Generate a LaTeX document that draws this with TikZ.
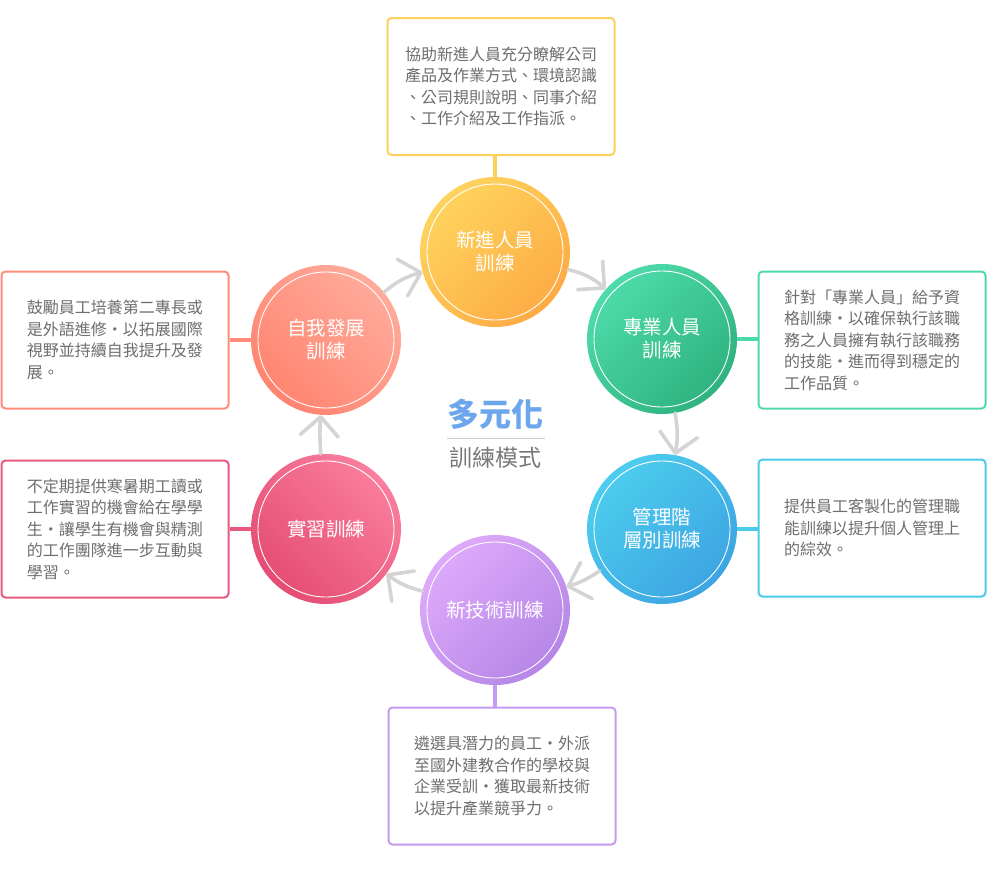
\documentclass[tikz,border=0pt]{standalone}
\usepackage{fontspec}
\usepackage{xcolor}
\usepackage{tikz}
\usetikzlibrary{arrows.meta}
\newfontfamily\cjk{Noto Sans CJK TC}
\definecolor{txtgray}{HTML}{6E6E6E}
\definecolor{subgray}{HTML}{777777}
\definecolor{rulegray}{HTML}{CCCCCC}
\definecolor{flowgray}{HTML}{D4D4D4}
\definecolor{titleblue}{HTML}{6CA6EC}
\definecolor{yelA}{HTML}{FED45E}
\definecolor{yelB}{HTML}{FDAB44}
\definecolor{yelLine}{HTML}{FDD05A}
\definecolor{grnA}{HTML}{4EDBAA}
\definecolor{grnB}{HTML}{2EB27F}
\definecolor{grnLine}{HTML}{4ED9AB}
\definecolor{bluA}{HTML}{4DCDEE}
\definecolor{bluB}{HTML}{3CA4E2}
\definecolor{bluLine}{HTML}{4ACBEA}
\definecolor{purA}{HTML}{DEAAFB}
\definecolor{purB}{HTML}{B586E6}
\definecolor{purLine}{HTML}{C49BF0}
\definecolor{pnkA}{HTML}{FA7E9E}
\definecolor{pnkB}{HTML}{E54C74}
\definecolor{pnkLine}{HTML}{E75A7E}
\definecolor{salA}{HTML}{FFAB9B}
\definecolor{salB}{HTML}{FF8470}
\definecolor{salLine}{HTML}{FF8C7A}

\begin{document}
\begin{tikzpicture}[x=1pt, y=-1pt,
  ring/.style={circle, minimum size=150pt, inner sep=0pt, text=white, align=center,
    font=\cjk\fontsize{19.5}{23}\selectfont,
    path picture={\draw[white, line width=0.9pt] (path picture bounding box.center) circle (68pt);}},
  note/.style={rectangle, rounded corners=4pt, line width=2pt, fill=white,
    minimum width=227pt, minimum height=137pt, inner sep=0pt, align=left, text=txtgray,
    font=\cjk\fontsize{16}{21.5}\selectfont},
  stub/.style={line width=4pt},
  flow/.style={flowgray, line width=3.6pt, line cap=round,
    -{Straight Barb[length=19pt, width=38pt, round]}}]
  \useasboundingbox (0,0) rectangle (990,870);

  % six training circles
  \foreach \nm/\x/\y/\col/\ang/\lab in {
    xinjin/495/252/yel/45/{新進人員\\訓練},
    zhuanye/662/339/grn/45/{專業人員\\訓練},
    guanli/662/529/blu/45/{管理階\\層別訓練},
    jishu/495/610/pur/45/{新技術訓練},
    shixi/326/529/pnk/-45/{實習訓練},
    ziwo/326/340/sal/-45/{自我發展\\訓練}}{
    \node[ring, top color=\col A, bottom color=\col B, shading angle=\ang] (\nm) at (\x,\y) {\lab};
  }

  % description boxes
  \foreach \nm/\x/\y/\col/\txt in {
    xinjin/501/86.5/yel/{協助新進人員充分瞭解公司\\產品及作業方式、環境認識\\、公司規則說明、同事介紹\\、工作介紹及工作指派。},
    zhuanye/872/340/grn/{針對「專業人員」給予資\\格訓練・以確保執行該職\\務之人員擁有執行該職務\\的技能・進而得到穩定的\\工作品質。},
    guanli/872/528/blu/{提供員工客製化的管理職\\能訓練以提升個人管理上\\的綜效。},
    jishu/502/776/pur/{遴選具潛力的員工・外派\\至國外建教合作的學校與\\企業受訓・獲取最新技術\\以提升產業競爭力。},
    shixi/115/529/pnk/{不定期提供寒暑期工讀或\\工作實習的機會給在學學\\生・讓學生有機會與精測\\的工作團隊進一步互動與\\學習。},
    ziwo/115/340/sal/{鼓勵員工培養第二專長或\\是外語進修・以拓展國際\\視野並持續自我提升及發\\展。}}{
    \node[note, draw=\col Line] (\nm box) at (\x,\y) {\txt};
  }

  % stubs from circle to box
  \draw[stub, yelLine] (xinjin.north) -- (xinjin.north |- xinjinbox.south);
  \draw[stub, grnLine] (zhuanye.east) -- (zhuanye.east -| zhuanyebox.west);
  \draw[stub, bluLine] (guanli.east) -- (guanli.east -| guanlibox.west);
  \draw[stub, purLine] (jishu.south) -- (jishu.south |- jishubox.north);
  \draw[stub, pnkLine] (shixi.west) -- (shixi.west -| shixibox.east);
  \draw[stub, salLine] (ziwo.west) -- (ziwo.west -| ziwobox.east);

  % cycle arrows
  \draw[flow] (ziwo) to[bend left=12] (xinjin);
  \draw[flow] (xinjin) to[bend left=14] (zhuanye);
  \draw[flow] (zhuanye) to[bend left=10] (guanli);
  \draw[flow] (guanli) to[bend left=8] (jishu);
  \draw[flow] (jishu) to[bend left=11] (shixi);
  \draw[flow] (shixi) to[bend left=4] (ziwo);

  % centre title
  \node[font=\cjk\bfseries\fontsize{32}{36}\selectfont, text=titleblue] (title) at (495,414) {多元化};
  \node[font=\cjk\fontsize{23}{26}\selectfont, text=subgray] (subtitle) at (495,458) {訓練模式};
  \draw[rulegray, line width=1pt] (447,438) -- (545,438);
\end{tikzpicture}
\end{document}
